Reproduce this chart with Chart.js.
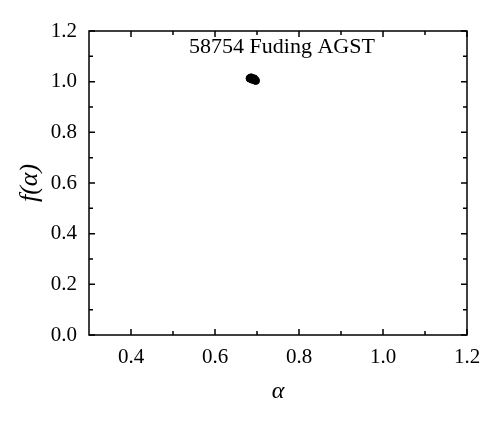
<!DOCTYPE html>
<html>
<head>
<meta charset="utf-8">
<script src="https://cdn.jsdelivr.net/npm/chart.js@4"></script>
<style>
  html, body { margin: 0; padding: 0; background: #fff; }
  #wrap { width: 500px; height: 422px; }
</style>
</head>
<body>
<div id="wrap"><canvas id="grafica" width="500" height="422"></canvas></div>
<script>
// valores
var alfa = [0.683, 0.686, 0.689, 0.692, 0.695, 0.697, 0.688, 0.693];
var fAlfa = [1.013, 1.016, 1.012, 1.009, 1.006, 1.004, 1.009, 1.012];
var ticksX = [0.4, 0.6, 0.8, 1.0, 1.2];
var ticksY = [0.0, 0.2, 0.4, 0.6, 0.8, 1.0, 1.2];
var menoresX = [0.5, 0.7, 0.9, 1.1];
var menoresY = [0.1, 0.3, 0.5, 0.7, 0.9, 1.1];
var titulo = '58754 Fuding AGST';

var fuente = "'Liberation Serif', 'Times New Roman', serif";

var puntos = alfa.map(function (a, i) { return { x: a, y: fAlfa[i] }; });

// marco con ticks hacia adentro en los cuatro lados
var marcoPlugin = {
    id: 'marco',
    afterDraw: function (chart) {
        var ctx = chart.ctx;
        var area = chart.chartArea;
        var sx = chart.scales.x, sy = chart.scales.y;
        ctx.save();
        ctx.strokeStyle = '#000';
        ctx.lineWidth = 1.5;
        ctx.strokeRect(area.left, area.top, area.right - area.left, area.bottom - area.top);
        ctx.beginPath();
        function tickX(v, largo) {
            var px = sx.getPixelForValue(v);
            ctx.moveTo(px, area.bottom); ctx.lineTo(px, area.bottom - largo);
            ctx.moveTo(px, area.top); ctx.lineTo(px, area.top + largo);
        }
        function tickY(v, largo) {
            var py = sy.getPixelForValue(v);
            ctx.moveTo(area.left, py); ctx.lineTo(area.left + largo, py);
            ctx.moveTo(area.right, py); ctx.lineTo(area.right - largo, py);
        }
        ticksX.forEach(function (v) { tickX(v, 6); });
        menoresX.forEach(function (v) { tickX(v, 4); });
        ticksY.forEach(function (v) { tickY(v, 6); });
        menoresY.forEach(function (v) { tickY(v, 4); });
        ctx.stroke();

        ctx.fillStyle = '#000';
        ctx.font = '22px ' + fuente;
        ctx.textAlign = 'center';
        ctx.textBaseline = 'top';
        ctx.fillText(titulo, (area.left + area.right) / 2 + 4, area.top + 5);
        ctx.restore();
    }
};

var ctx = document.getElementById('grafica').getContext('2d');
var myChart = new Chart(ctx, {
    type: 'scatter',
    data: {
        datasets: [{
            label: titulo,
            data: puntos,
            backgroundColor: '#000',
            borderColor: '#000',
            pointRadius: 3.8,
            pointHoverRadius: 3.8
        }]
    },
    options: {
        responsive: false,
        animation: false,
        layout: { padding: { top: 31, right: 33, bottom: 0, left: 0 } },
        plugins: {
            legend: { display: false },
            tooltip: { enabled: false }
        },
        scales: {
            x: {
                type: 'linear',
                position: 'bottom',
                min: 0.3,
                max: 1.2,
                afterBuildTicks: function (scale) {
                    scale.ticks = ticksX.map(function (v) { return { value: v }; });
                },
                afterFit: function (scale) { scale.height = 87; },
                grid: { display: false, drawTicks: false },
                border: { display: false },
                ticks: {
                    color: '#000',
                    padding: 10,
                    maxRotation: 0,
                    font: { family: fuente, size: 21 },
                    callback: function (v) { return v.toFixed(1); }
                },
                title: {
                    display: true,
                    text: 'α',
                    color: '#000',
                    padding: { top: 0, bottom: 16 },
                    font: { family: fuente, size: 24, style: 'italic' }
                }
            },
            y: {
                type: 'linear',
                position: 'left',
                min: 0,
                max: 1.2,
                afterBuildTicks: function (scale) {
                    scale.ticks = ticksY.map(function (v) { return { value: v }; });
                },
                afterFit: function (scale) { scale.width = 89; },
                grid: { display: false, drawTicks: false },
                border: { display: false },
                ticks: {
                    color: '#000',
                    padding: 12,
                    font: { family: fuente, size: 21 },
                    callback: function (v) { return v.toFixed(1); }
                },
                title: {
                    display: true,
                    text: 'f(α)',
                    color: '#000',
                    padding: { top: 15, bottom: 0 },
                    font: { family: fuente, size: 26, style: 'italic' }
                }
            }
        }
    },
    plugins: [marcoPlugin]
});
</script>
</body>
</html>
